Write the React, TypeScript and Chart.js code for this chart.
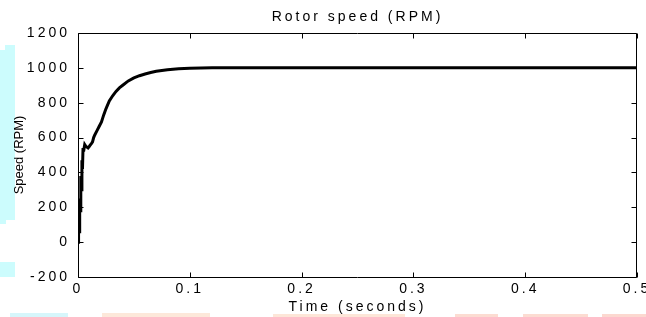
import React, { useEffect, useRef } from "react";
import { Chart, registerables } from "chart.js";

Chart.register(...registerables);

// ---- data ----
const timeSeconds = [
  0, 0.0005, 0.001, 0.0015, 0.002, 0.0025, 0.003, 0.0035, 0.004, 0.0045, 0.005,
  0.006, 0.007, 0.008, 0.009, 0.01, 0.011, 0.012, 0.013, 0.014, 0.015, 0.017,
  0.019, 0.021, 0.023, 0.025, 0.028, 0.031, 0.034, 0.037, 0.04, 0.045, 0.05,
  0.055, 0.06, 0.065, 0.07, 0.08, 0.09, 0.1, 0.11, 0.12, 0.15, 0.2, 0.3, 0.4, 0.5,
];
const speedRpm = [
  0, 120, 60, 250, 180, 380, 300, 470, 420, 540, 520,
  560, 550, 545, 540, 548, 558, 565, 575, 600, 615, 640,
  665, 690, 730, 765, 810, 840, 865, 885, 900, 925, 942,
  955, 965, 973, 980, 989, 995, 998, 999, 1000, 1000, 1000, 1000, 1000, 1000,
];
const xTickValues = [0, 0.1, 0.2, 0.3, 0.4, 0.5];
const yTickValues = [-200, 0, 200, 400, 600, 800, 1000, 1200];
const chartTitle = "Rotor speed (RPM)";
const xAxisLabel = "Time (seconds)";
const yAxisLabel = "Speed (RPM)";

const FONT = "'Liberation Sans', Arial, Helvetica, sans-serif";

const framePlugin = {
  id: "matlabFrame",
  beforeDraw(chart: any) {
    chart.ctx.letterSpacing = "3px";
  },
  afterDraw(chart: any) {
    const { ctx, chartArea: a, scales } = chart;
    const xs = scales.x;
    const ys = scales.y;
    const L = Math.round(a.left) + 0.5;
    const R = Math.round(a.right) - 0.5;
    const T = Math.round(a.top) + 0.5;
    const B = Math.round(a.bottom) + 0.5;
    const tl = 5;
    ctx.save();
    ctx.strokeStyle = "#000";
    ctx.lineWidth = 1;
    ctx.beginPath();
    ctx.rect(L, T, R - L, B - T);
    xTickValues.forEach((v) => {
      const px = Math.round(xs.getPixelForValue(v)) + 0.5;
      ctx.moveTo(px, B);
      ctx.lineTo(px, B - tl);
      ctx.moveTo(px, T);
      ctx.lineTo(px, T + tl);
    });
    yTickValues.forEach((v) => {
      const py = Math.round(ys.getPixelForValue(v)) + 0.5;
      ctx.moveTo(L, py);
      ctx.lineTo(L + tl, py);
      ctx.moveTo(R, py);
      ctx.lineTo(R - tl, py);
    });
    ctx.stroke();
    ctx.restore();
  },
};

const deco: Array<[number, number, number, number, string]> = [
  [5, 45, 10, 5, "#ccfcfd"],
  [0, 50, 15, 170, "#ccfcfd"],
  [0, 220, 6, 4, "#ccfcfd"],
  [0, 262, 15, 15, "#ccfcfd"],
  [10, 313, 58, 4, "#d6f6fb"],
  [102, 313, 108, 4, "#fde8da"],
  [273, 314, 132, 3, "#fde6d8"],
  [455, 314, 43, 3, "#fcdcd2"],
  [523, 314, 65, 3, "#fcdcd2"],
  [602, 314, 44, 3, "#fcd8d0"],
];

export default function App() {
  const canvasRef = useRef<HTMLCanvasElement | null>(null);

  useEffect(() => {
    const canvas = canvasRef.current;
    if (!canvas) return;
    const points = timeSeconds.map((t, i) => ({ x: t, y: speedRpm[i] }));
    const chart = new Chart(canvas, {
      type: "line",
      data: {
        datasets: [
          {
            data: points,
            borderColor: "#000",
            borderWidth: 3,
            pointRadius: 0,
            tension: 0,
            fill: false,
          },
        ],
      },
      options: {
        animation: false,
        responsive: false,
        devicePixelRatio: 1,
        layout: { padding: { left: 0, right: 9, top: 0, bottom: 1 } },
        plugins: {
          legend: { display: false },
          tooltip: { enabled: false },
          title: {
            display: true,
            text: chartTitle,
            fullSize: false,
            color: "#000",
            font: { family: FONT, size: 14, weight: "normal" },
            padding: { top: 9, bottom: 7.2 },
          },
        },
        scales: {
          x: {
            type: "linear",
            min: 0,
            max: 0.5,
            grid: { display: false, drawTicks: false },
            border: { display: false },
            ticks: {
              color: "#000",
              padding: 4,
              maxRotation: 0,
              font: { family: FONT, size: 14 },
              callback: (v: any) => String(v),
            },
            afterBuildTicks: (s: any) => {
              s.ticks = xTickValues.map((v) => ({ value: v }));
            },
            afterFit: (s: any) => {
              s.height = 39;
              s.paddingLeft = 0;
              s.paddingRight = 0;
            },
            title: {
              display: true,
              text: xAxisLabel,
              color: "#000",
              font: { family: FONT, size: 14 },
              padding: { top: 0, bottom: 0 },
            },
          },
          y: {
            type: "linear",
            min: -200,
            max: 1200,
            grid: { display: false, drawTicks: false },
            border: { display: false },
            ticks: {
              color: "#000",
              padding: 8,
              font: { family: FONT, size: 14 },
              callback: (v: any) => String(v),
            },
            afterBuildTicks: (s: any) => {
              s.ticks = yTickValues.map((v) => ({ value: v }));
            },
            afterFit: (s: any) => {
              s.width = 78;
              s.paddingTop = 0;
              s.paddingBottom = 0;
            },
            title: {
              display: true,
              text: yAxisLabel,
              color: "#000",
              font: { family: FONT, size: 13 },
              padding: { top: 12, bottom: 0 },
            },
          },
        },
      },
      plugins: [framePlugin],
    });
    const ys: any = chart.scales.y;
    const origTitle = ys.drawTitle.bind(ys);
    ys.drawTitle = () => {
      const c = ys.ctx;
      const prev = c.letterSpacing;
      c.letterSpacing = "0px";
      origTitle();
      c.letterSpacing = prev;
    };
    chart.draw();
    return () => chart.destroy();
  }, []);

  return (
    <div
      style={{
        position: "fixed",
        left: 0,
        top: 0,
        width: 646,
        height: 317,
        background: "#fff",
        overflow: "hidden",
      }}
    >
      {deco.map(([l, t, w, h, c], i) => (
        <div
          key={i}
          style={{ position: "absolute", left: l, top: t, width: w, height: h, background: c }}
        />
      ))}
      <canvas
        ref={canvasRef}
        width={646}
        height={317}
        style={{ position: "absolute", left: 0, top: 0, width: 646, height: 317 }}
      />
    </div>
  );
}
